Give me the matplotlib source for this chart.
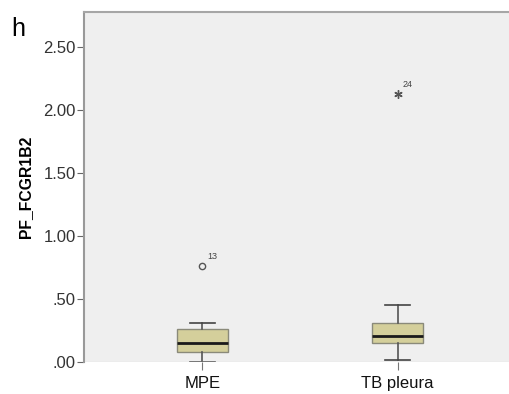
"""SPSS-style boxplot of PF_FCGR1B2 for MPE vs TB pleura (panel h)."""

import matplotlib

matplotlib.use("Agg")
import matplotlib.pyplot as plt

plt.rcParams["font.family"] = ["Liberation Sans", "DejaVu Sans"]

# --------------------------------------------------------------- data
groups = ["MPE", "TB pleura"]
whis_lo = [0.00, 0.02]
q1 = [0.08, 0.15]
medians = [0.15, 0.21]
q3 = [0.26, 0.31]
whis_hi = [0.31, 0.45]
outlier_vals = [0.76, 2.13]
outlier_ids = ["13", "24"]
outlier_kind = ["o", "*"]   # SPSS: o = mild outlier, * = extreme

# --------------------------------------------------------------- figure
fig = plt.figure(figsize=(5.09, 3.94), dpi=100)
ax = fig.add_axes([0.165, 0.081, 0.835, 0.889])
ax.set_facecolor("#efefef")

stats = [
    {"whislo": lo, "q1": a, "med": m, "q3": b, "whishi": hi, "fliers": []}
    for lo, a, m, b, hi in zip(whis_lo, q1, medians, q3, whis_hi)
]
pos = [1, 2]
ax.bxp(
    stats,
    positions=pos,
    widths=0.26,
    patch_artist=True,
    showfliers=False,
    boxprops=dict(facecolor="#d4cf9b", edgecolor="#8a8a7a", linewidth=1),
    medianprops=dict(color="#1a1a1a", linewidth=2),
    whiskerprops=dict(color="#555555", linewidth=1.2),
    capprops=dict(color="#444444", linewidth=1.2),
    capwidths=0.13,
)

markers = {"o": "o", "*": (6, 2, 0)}
for x, v, lab, kind in zip(pos, outlier_vals, outlier_ids, outlier_kind):
    ax.plot([x], [v], linestyle="none", marker=markers[kind],
            markersize=4.5 if kind == "o" else 6, markerfacecolor="none",
            markeredgecolor="#555555", markeredgewidth=1)
    ax.text(x + 0.025, v + 0.04, lab, ha="left", va="bottom", fontsize=6.5,
            color="#444444")

ax.set_xlim(0.395, 2.57)
ax.set_ylim(0, 2.78)
ax.set_yticks([0, 0.5, 1.0, 1.5, 2.0, 2.5])
ax.set_yticklabels([".00", ".50", "1.00", "1.50", "2.00", "2.50"])
ax.set_xticks(pos)
ax.set_xticklabels(groups)
ax.tick_params(axis="y", labelsize=12, length=5, color="#666666",
               labelcolor="#333333", pad=1)
ax.tick_params(axis="x", labelsize=12, length=6, color="#777777",
               labelcolor="#111111", pad=4)
ax.set_ylabel("PF_FCGR1B2", fontsize=11.3, fontweight="bold", labelpad=7)

for side in ("right", "bottom"):
    ax.spines[side].set_visible(False)
ax.spines["left"].set_color("#999999")
ax.spines["left"].set_linewidth(1.5)
ax.spines["top"].set_color("#a6a6a6")
ax.spines["top"].set_linewidth(1.5)
ax.axhline(0, color="#e2e2e2", linewidth=1)

fig.text(0.022, 0.956, "h", fontsize=18, va="top")

fig.savefig("out.png", dpi=100)
plt.close(fig)
